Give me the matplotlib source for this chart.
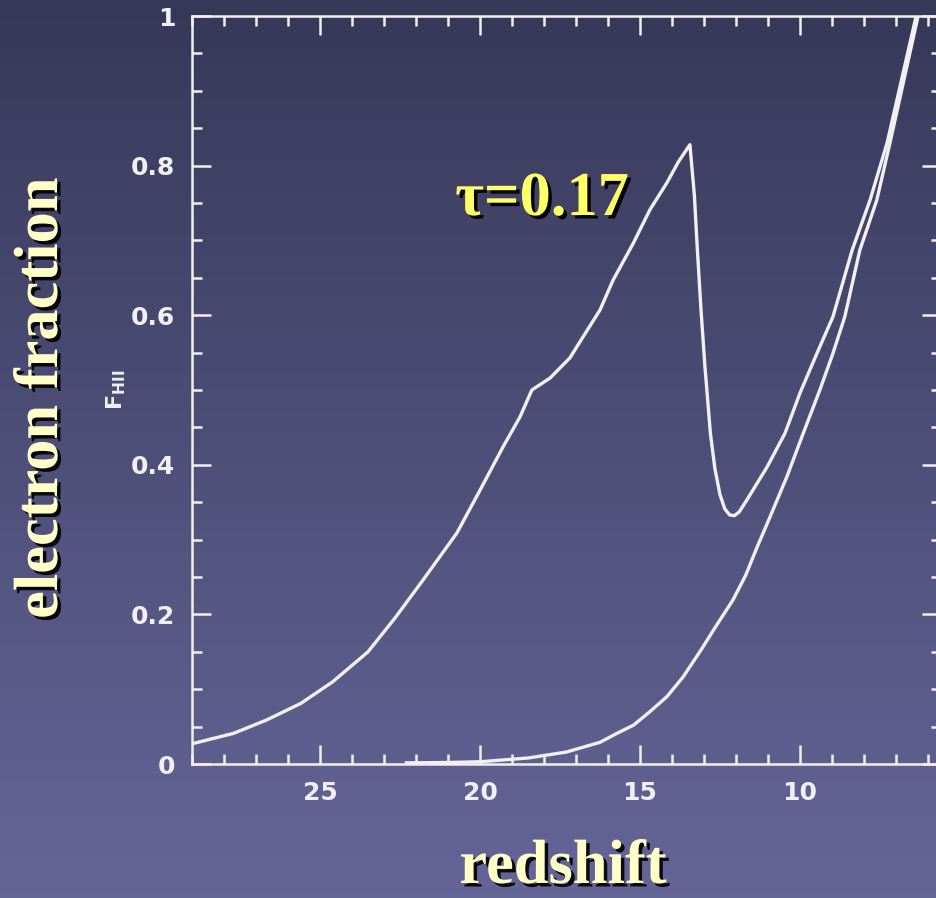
import numpy as np
import matplotlib
matplotlib.use('Agg')
import matplotlib.pyplot as plt
import matplotlib.patheffects as pe
from matplotlib.ticker import MultipleLocator

# upper curve (tau = 0.17 model), redshift vs electron fraction
z_up = [29.0, 27.7, 26.66, 25.6, 24.6, 23.5, 22.66, 21.78, 20.72, 20.0, 19.28,
        18.75, 18.38, 17.81, 17.19, 16.78, 16.25, 15.84, 15.2, 14.69, 14.16,
        13.8, 13.44, 13.3, 13.22, 13.1, 12.97, 12.8, 12.66, 12.5, 12.35, 12.2,
        12.05, 11.9, 11.66, 11.03, 10.47, 10.0, 9.47, 8.97, 8.37, 7.81, 7.28,
        6.37, 6.2]
f_up = [0.027, 0.041, 0.059, 0.081, 0.110, 0.150, 0.195, 0.246, 0.309, 0.366, 0.424,
        0.464, 0.500, 0.516, 0.543, 0.571, 0.607, 0.647, 0.697, 0.741, 0.777,
        0.805, 0.828, 0.76, 0.697, 0.611, 0.531, 0.442, 0.395, 0.360, 0.341, 0.333,
        0.332, 0.337, 0.353, 0.397, 0.442, 0.496, 0.549, 0.598, 0.687, 0.754, 0.830,
        1.0, 1.02]

# lower curve
z_lo = [22.3, 21.0, 20.0, 18.5, 17.3, 16.25, 15.72, 15.2, 14.69, 14.16, 13.66,
        13.1, 12.6, 12.1, 11.7, 11.34, 10.94, 10.41, 9.9, 9.38, 8.97, 8.6, 8.13,
        7.6, 7.19, 6.31, 6.2]
f_lo = [0.0015, 0.002, 0.003, 0.008, 0.016, 0.029, 0.041, 0.052, 0.070, 0.090, 0.116,
        0.152, 0.186, 0.219, 0.252, 0.290, 0.330, 0.384, 0.442, 0.500, 0.549, 0.598,
        0.687, 0.754, 0.830, 1.0, 1.02]

x_ticks = [25, 20, 15, 10]
y_ticks = [0, 0.2, 0.4, 0.6, 0.8, 1]
y_ticklabels = ['0', '0.2', '0.4', '0.6', '0.8', '1']

W, H = 936, 898
fig = plt.figure(figsize=(W / 100, H / 100), dpi=100)

# gradient background
bg = fig.add_axes([0, 0, 1, 1], zorder=-10)
top = np.array([0x37, 0x38, 0x58]) / 255
bot = np.array([0x65, 0x66, 0x98]) / 255
t = np.linspace(0, 1, 256)[:, None]
grad = (top[None, :] * (1 - t) + bot[None, :] * t)[:, None, :]
bg.imshow(np.repeat(grad, 4, axis=1), aspect='auto', extent=[0, 1, 0, 1])
bg.axis('off')

# main axes: left spine x=192, top y=16, bottom y=764, 32 px per redshift unit
xl, xr = 29.0, 5.6
left = 192 / W
width = (xl - xr) * 32 / W
bottom = (H - 764) / H
height = (764 - 16) / H
ax = fig.add_axes([left, bottom, width, height], facecolor='none')

ax.plot(z_up, f_up, color='#f0f0f0', lw=2.4)
ax.plot(z_lo, f_lo, color='#f0f0f0', lw=2.4)

ax.set_xlim(xl, xr)
ax.set_ylim(0, 1)
ax.set_xticks(x_ticks)
ax.set_yticks(y_ticks)
ax.set_yticklabels(y_ticklabels)
ax.xaxis.set_minor_locator(MultipleLocator(1))
ax.yaxis.set_minor_locator(MultipleLocator(0.05))

for s in ax.spines.values():
    s.set_color('#f0f0f0')
    s.set_linewidth(1.8)
ax.tick_params(which='both', direction='in', top=True, right=True,
               colors='#f0f0f0', width=1.8)
ax.tick_params(which='major', length=14, pad=12, labelsize=18)
ax.tick_params(which='minor', length=7.5)
for lab in ax.get_xticklabels() + ax.get_yticklabels():
    lab.set_fontweight('heavy')
    lab.set_color('#f0f0f0')

shadow = [pe.withSimplePatchShadow(offset=(2.5, -2.5), shadow_rgbFace='black', alpha=0.9)]
serif = ['Liberation Serif', 'DejaVu Serif']

fig.text(42 / W, 1 - 398 / H, 'electron fraction', rotation=90, ha='center', va='center',
         fontsize=45, fontweight='bold', family=serif, color='#ffffc8', path_effects=shadow)
fig.text(563 / W, 1 - 868 / H, 'redshift', ha='center', va='center',
         fontsize=45, fontweight='bold', family=serif, color='#ffffc8', path_effects=shadow)
fig.text(542 / W, 1 - 200 / H, 'τ=0.17', ha='center', va='center',
         fontsize=45, fontweight='bold', family=serif, color='#ffff66', path_effects=shadow)
fig.text(116 / W, 1 - 390 / H, r'$\mathbf{F_{HII}}$', rotation=90, ha='center', va='center',
         fontsize=16, color='#f0f0f0')

fig.savefig('out.png', dpi=100)
